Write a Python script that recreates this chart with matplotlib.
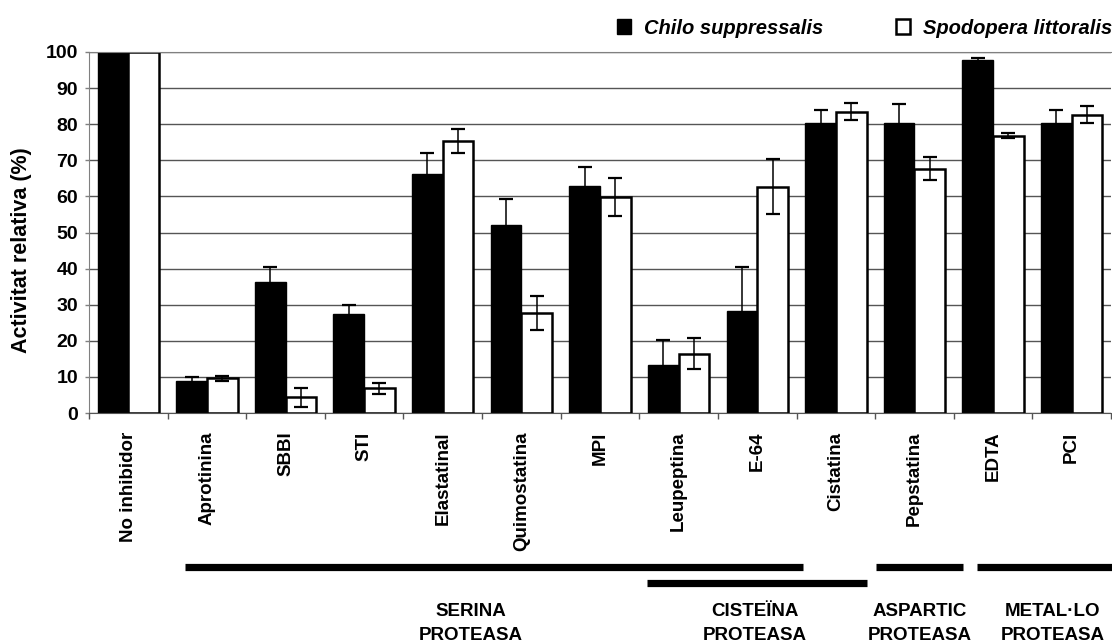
import numpy as np
import matplotlib
matplotlib.use("Agg")
import matplotlib.pyplot as plt
from matplotlib.patches import Patch
from matplotlib.transforms import blended_transform_factory

plt.rcParams["font.family"] = ["Liberation Sans", "DejaVu Sans"]
plt.rcParams["font.weight"] = "bold"

inhibitors = ["No inhibidor", "Aprotinina", "SBBI", "STI", "Elastatinal",
              "Quimostatina", "MPI", "Leupeptina", "E-64", "Cistatina",
              "Pepstatina", "EDTA", "PCI"]
chilo = [100, 8.9, 36.3, 27.3, 66.3, 52.2, 62.9, 13.2, 28.2, 80.3, 80.3, 97.7, 80.3]
chilo_err = [0, 1.1, 4.2, 2.7, 5.7, 7.2, 5.3, 7.1, 12.3, 3.7, 5.2, 0.7, 3.7]
spodo = [100, 9.6, 4.3, 6.8, 75.3, 27.7, 59.9, 16.4, 62.7, 83.5, 67.7, 76.8, 82.6]
spodo_err = [0, 0.7, 2.5, 1.6, 3.4, 4.6, 5.2, 4.3, 7.7, 2.3, 3.2, 0.7, 2.4]

# protease classes: (label, start, end, row) in category units
groups = [
    ("SERINA\nPROTEASA", 0.72, 8.58, 0),
    ("CISTEÏNA\nPROTEASA", 6.60, 9.39, 1),
    ("ASPARTIC\nPROTEASA", 9.51, 10.62, 0),
    ("METAL·LO\nPROTEASA", 10.80, 12.55, 0),
]
group_label_x = [4.36, 7.97, 10.07, 11.76]

W, H = 1112, 643
fig = plt.figure(figsize=(W / 100, H / 100), dpi=100)
ax = fig.add_axes([89 / W, 1 - 413 / H, 1022 / W, 361 / H])

x = np.arange(len(inhibitors))
bw = 0.39
ax.bar(x - bw / 2, chilo, bw, color="black", edgecolor="black", linewidth=1, zorder=2)
ax.bar(x + bw / 2, spodo, bw, color="white", edgecolor="black", linewidth=1.8, zorder=2)

ax.errorbar(x[1:] - bw / 2, chilo[1:], yerr=chilo_err[1:], fmt="none",
            ecolor="black", elinewidth=1.1, capsize=5, capthick=1.6, zorder=3)
ax.errorbar(x[1:] + bw / 2, spodo[1:], yerr=spodo_err[1:], fmt="none",
            ecolor="black", elinewidth=1.1, capsize=5, capthick=1.6, zorder=3)

ax.set_xlim(-0.5, len(inhibitors) - 0.5)
ax.set_ylim(0, 100)
ax.set_yticks(np.arange(0, 101, 10))
ax.tick_params(axis="y", labelsize=14, length=3, width=1, color="#808080", pad=5)
ax.set_xticks(x)
ax.set_xticklabels(inhibitors, rotation=90, va="top", ha="center", fontsize=13.5)
ax.set_xticks(np.arange(-0.5, len(inhibitors)), minor=True)
ax.tick_params(axis="x", which="major", length=0, pad=13.5)
ax.tick_params(axis="x", which="minor", length=4, width=1, color="#555555")

ax.grid(axis="y", color="#555555", linewidth=1)
ax.set_axisbelow(True)
ax.spines["right"].set_visible(False)
ax.spines["top"].set_color("#808080")
ax.spines["left"].set_color("#808080")
ax.spines["bottom"].set_color("#555555")

fig.text(22 / W, 1 - 250 / H, "Activitat relativa (%)", rotation=90,
         ha="center", va="center", fontsize=15.5)

# class bars and labels under the categories
trans = blended_transform_factory(ax.transData, ax.transAxes)
label_trans = blended_transform_factory(ax.transData, fig.transFigure)
row_y = [-0.4266, -0.4709]
for (label, x0, x1, row), lx in zip(groups, group_label_x):
    ax.plot([x0, x1], [row_y[row]] * 2, color="black", lw=5.2,
            solid_capstyle="butt", transform=trans, clip_on=False)
    ax.text(lx, 1 - 603 / H, label, transform=label_trans,
            ha="center", va="top", fontsize=13.5, linespacing=1.55)

handles = [Patch(facecolor="black", edgecolor="black"),
           Patch(facecolor="white", edgecolor="black", linewidth=1.8)]
fig.legend(handles, ["Chilo suppressalis", "Spodopera littoralis"],
           loc="center left", bbox_to_anchor=(617 / W, 1 - 28 / H), ncol=2,
           frameon=False, handlelength=0.7, handleheight=0.7,
           handletextpad=0.65, columnspacing=3.6, borderpad=0, borderaxespad=0,
           prop={"size": 14.5, "weight": "bold", "style": "italic"})

fig.savefig("out.png", dpi=100)
